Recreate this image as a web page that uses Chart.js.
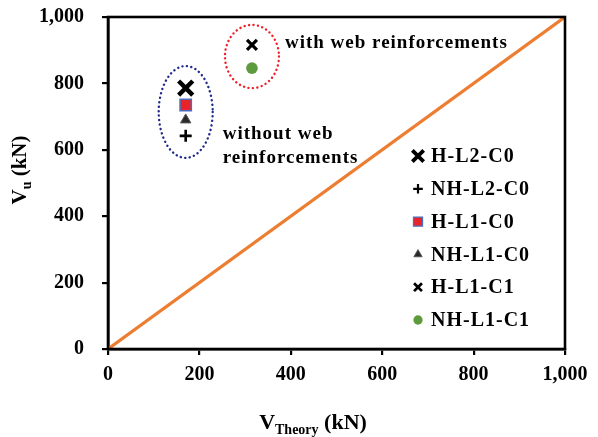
<!DOCTYPE html>
<html>
<head>
<meta charset="utf-8">
<script src="https://cdn.jsdelivr.net/npm/chart.js@4/dist/chart.umd.min.js"></script>
<style>
  html, body { margin: 0; padding: 0; background: #fff; }
  #wrap { width: 598px; height: 437px; }
</style>
</head>
<body>
<div id="wrap"><canvas id="c" width="598" height="437"></canvas></div>
<script>
// Specimen names and measured vs. predicted shear capacity (kN)
const seriesNames = ['H-L2-C0', 'NH-L2-C0', 'H-L1-C0', 'NH-L1-C0', 'H-L1-C1', 'NH-L1-C1'];
const vTheory = [170, 170, 170, 170, 315, 315];
const vUltimate = [786, 642, 735, 690, 916, 846];

// Line of equality V_u = V_Theory
const equalityX = [0, 1000];
const equalityY = [0, 1000];

// Axis ticks
const xTicks = [0, 200, 400, 600, 800, 1000];
const yTicks = [0, 200, 400, 600, 800, 1000];

// Specimen groups that are circled on the plot
const groupLabels = [['without web', 'reinforcements'], ['with web reinforcements']];
const groupMembers = [[0, 1, 2, 3], [4, 5]];

const FONT = '"Liberation Serif", "Times New Roman", serif';

const markerStyles = [
  { pointStyle: 'crossRot', radius: 10, borderWidth: 4.5, fill: '#000', stroke: '#000' },
  { pointStyle: 'cross', radius: 6, borderWidth: 2.6, fill: '#000', stroke: '#000' },
  { pointStyle: 'rect', radius: 8, borderWidth: 1.5, fill: '#E8232A', stroke: '#4A6FC0' },
  { pointStyle: 'triangle', radius: 6, borderWidth: 1, fill: '#2a2a2a', stroke: '#555' },
  { pointStyle: 'crossRot', radius: 7, borderWidth: 3.2, fill: '#000', stroke: '#000' },
  { pointStyle: 'circle', radius: 5.8, borderWidth: 0, fill: '#5E9A3E', stroke: '#5E9A3E' }
];

const datasets = [{
  label: 'equality',
  data: equalityX.map((x, i) => ({ x: x, y: equalityY[i] })),
  showLine: true,
  borderColor: '#ED7D31',
  borderWidth: 3.2,
  pointRadius: 0,
  order: 10
}];
seriesNames.forEach((name, i) => {
  const m = markerStyles[i];
  datasets.push({
    label: name,
    data: [{ x: vTheory[i], y: vUltimate[i] }],
    pointStyle: m.pointStyle,
    pointRadius: m.radius,
    pointHoverRadius: m.radius,
    pointBorderWidth: m.borderWidth,
    pointBackgroundColor: m.fill,
    pointBorderColor: m.stroke,
    showLine: false,
    order: 1
  });
});

function setFont(ctx, size) {
  ctx.font = 'bold ' + size + 'px ' + FONT;
}

// Frame, dotted group ellipses, group notes, legend and axis titles
const decorations = {
  id: 'decorations',
  afterDatasetsDraw(chart) {
    const ctx = chart.ctx;
    const xs = chart.scales.x, ys = chart.scales.y;

    // dotted ellipses around each specimen group
    const colors = ['#1F2A8A', '#F0202A'];
    const ellipses = groupMembers.map((members, g) => {
      const px = members.map(i => xs.getPixelForValue(vTheory[i]));
      const py = members.map(i => ys.getPixelForValue(vUltimate[i]));
      const cx = (Math.min(...px) + Math.max(...px)) / 2;
      const cy = (Math.min(...py) + Math.max(...py)) / 2;
      const rx = (Math.max(...px) - Math.min(...px)) / 2 + 27;
      const ry = (Math.max(...py) - Math.min(...py)) / 2 + (g === 0 ? 22 : 20);
      return { cx, cy, rx, ry };
    });
    ctx.save();
    ellipses.forEach((e, g) => {
      ctx.beginPath();
      ctx.ellipse(e.cx, e.cy, e.rx, e.ry, 0, 0, Math.PI * 2);
      ctx.strokeStyle = colors[g];
      ctx.lineWidth = 2.4;
      ctx.lineCap = 'round';
      ctx.setLineDash([0.1, 4.4]);
      ctx.stroke();
    });
    ctx.restore();

    // group notes
    ctx.save();
    setFont(ctx, 19);
    ctx.letterSpacing = '1px';
    ctx.fillStyle = '#000';
    ctx.textBaseline = 'middle';
    ctx.textAlign = 'left';
    const e0 = ellipses[0], e1 = ellipses[1];
    ctx.fillText(groupLabels[0][0], e0.cx + e0.rx + 10, e0.cy + 22);
    ctx.fillText(groupLabels[0][1], e0.cx + e0.rx + 10, e0.cy + 46);
    ctx.fillText(groupLabels[1][0], e1.cx + e1.rx + 6, e1.cy - 13);
    ctx.restore();

    // legend
    ctx.save();
    const lx = 418, ly = 156, step = 32.8;
    seriesNames.forEach((name, i) => {
      const m = markerStyles[i];
      const y = ly + i * step;
      ctx.fillStyle = m.fill;
      ctx.strokeStyle = m.stroke;
      ctx.lineWidth = m.borderWidth * 0.85;
      Chart.helpers.drawPoint(ctx, {
        pointStyle: m.pointStyle,
        radius: m.radius * 0.8,
        rotation: 0,
        borderWidth: m.borderWidth * 0.85
      }, lx, y);
      setFont(ctx, 20);
      ctx.letterSpacing = '1px';
      ctx.fillStyle = '#000';
      ctx.textBaseline = 'middle';
      ctx.textAlign = 'left';
      ctx.fillText(name, lx + 13, y + 1);
    });
    ctx.restore();
  },
  afterDraw(chart) {
    const ctx = chart.ctx;
    const area = chart.chartArea;
    ctx.save();
    // plot frame
    ctx.strokeStyle = '#000';
    ctx.lineWidth = 2.6;
    ctx.strokeRect(area.left, area.top, area.right - area.left, area.bottom - area.top);

    // x axis title: V_Theory (kN)
    ctx.fillStyle = '#000';
    ctx.textBaseline = 'alphabetic';
    ctx.textAlign = 'left';
    const parts = [['V', 22, 0], ['Theory', 14, 5], [' (kN)', 22, 0]];
    let width = 0;
    parts.forEach(p => { setFont(ctx, p[1]); width += ctx.measureText(p[0]).width; });
    let x = 313 - width / 2;
    const base = 429;
    parts.forEach(p => {
      setFont(ctx, p[1]);
      ctx.fillText(p[0], x, base + p[2]);
      x += ctx.measureText(p[0]).width;
    });

    // y axis title: V_u (kN)
    ctx.translate(26, 170);
    ctx.rotate(-Math.PI / 2);
    const yparts = [['V', 21, 0], ['u', 14, 5], [' (kN)', 21, 0]];
    width = 0;
    yparts.forEach(p => { setFont(ctx, p[1]); width += ctx.measureText(p[0]).width; });
    x = -width / 2;
    yparts.forEach(p => {
      setFont(ctx, p[1]);
      ctx.fillText(p[0], x, p[2]);
      x += ctx.measureText(p[0]).width;
    });
    ctx.restore();
  }
};

const tickFont = { family: FONT, size: 20, weight: 'bold' };

new Chart(document.getElementById('c'), {
  type: 'scatter',
  data: { datasets: datasets },
  options: {
    responsive: false,
    animation: false,
    devicePixelRatio: 1,
    layout: { padding: { top: 17, right: 33, left: 0, bottom: 0 } },
    plugins: {
      legend: { display: false },
      tooltip: { enabled: false }
    },
    scales: {
      x: {
        type: 'linear',
        min: xTicks[0],
        max: xTicks[xTicks.length - 1],
        afterBuildTicks(scale) { scale.ticks = xTicks.map(v => ({ value: v })); },
        afterFit(scale) {
          scale.height = 88;
          scale.paddingLeft = 0;
          scale.paddingRight = 0;
        },
        grid: { drawOnChartArea: false, drawTicks: true, tickLength: 6, color: '#000', lineWidth: 2.2 },
        border: { display: true, color: '#000', width: 2.6 },
        ticks: {
          color: '#000',
          font: tickFont,
          padding: 8,
          maxRotation: 0,
          callback: v => v.toLocaleString('en-US')
        }
      },
      y: {
        type: 'linear',
        min: yTicks[0],
        max: yTicks[yTicks.length - 1],
        afterBuildTicks(scale) { scale.ticks = yTicks.map(v => ({ value: v })); },
        afterFit(scale) {
          scale.width = 108;
          scale.paddingTop = 0;
          scale.paddingBottom = 0;
        },
        grid: { drawOnChartArea: false, drawTicks: true, tickLength: 6, color: '#000', lineWidth: 2.2 },
        border: { display: true, color: '#000', width: 2.6 },
        ticks: {
          color: '#000',
          font: tickFont,
          padding: 18,
          callback: v => v.toLocaleString('en-US')
        }
      }
    }
  },
  plugins: [decorations]
});
</script>
</body>
</html>
